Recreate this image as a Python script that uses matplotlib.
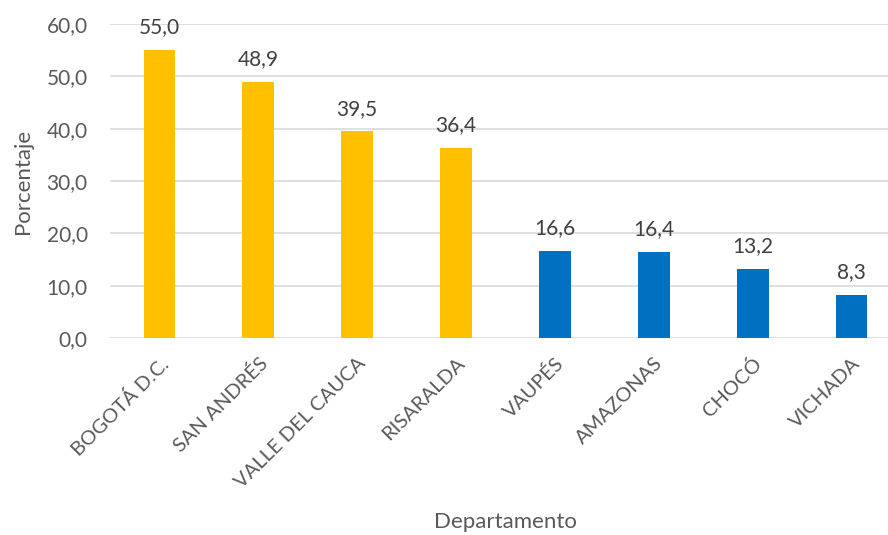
import matplotlib.pyplot as plt

# datos
departamentos = ["BOGOTÁ D.C.", "SAN ANDRÉS", "VALLE DEL CAUCA", "RISARALDA",
                 "VAUPÉS", "AMAZONAS", "CHOCÓ", "VICHADA"]
porcentajes = [55.0, 48.9, 39.5, 36.4, 16.6, 16.4, 13.2, 8.3]
colores = ["#FFC000"] * 4 + ["#0070C0"] * 4
yticks = [0, 10, 20, 30, 40, 50, 60]

plt.rcParams['font.family'] = ['Lato', 'DejaVu Sans']

fig = plt.figure(figsize=(8.88, 5.35), dpi=100)
ax = fig.add_axes([110/888, 197/535, 791/888, 314/535])

x = range(len(departamentos))
ax.bar(x, porcentajes, width=0.32, color=colores, zorder=3)

for i, v in enumerate(porcentajes):
    ax.annotate(f"{v:.1f}".replace(".", ","), (i, v), xytext=(0, 12),
                textcoords="offset points", ha="center", va="baseline",
                fontsize=15, color="#404040")

ax.set_xlim(-0.5, len(departamentos) - 0.5)
ax.set_ylim(0, 60)
ax.set_yticks(yticks)
ax.set_yticklabels([f"{t:.1f}".replace(".", ",") for t in yticks], fontsize=15, color="#595959")
ax.set_xticks(list(x))
ax.set_xticklabels(departamentos, rotation=45, ha="right", rotation_mode="anchor",
                   fontsize=14.5, color="#595959")
ax.tick_params(axis="y", length=0, pad=16)
ax.tick_params(axis="x", length=0, pad=12)

ax.yaxis.grid(True, color="#D9D9D9", linewidth=1.2, zorder=0)
for s in ax.spines.values():
    s.set_visible(False)

ax.set_ylabel("Porcentaje", fontsize=16, color="#595959", labelpad=10)
fig.text(505/888, 1 - 522/535, "Departamento", ha="center", va="center",
         fontsize=16, color="#595959")

fig.savefig("out.png", dpi=100)
